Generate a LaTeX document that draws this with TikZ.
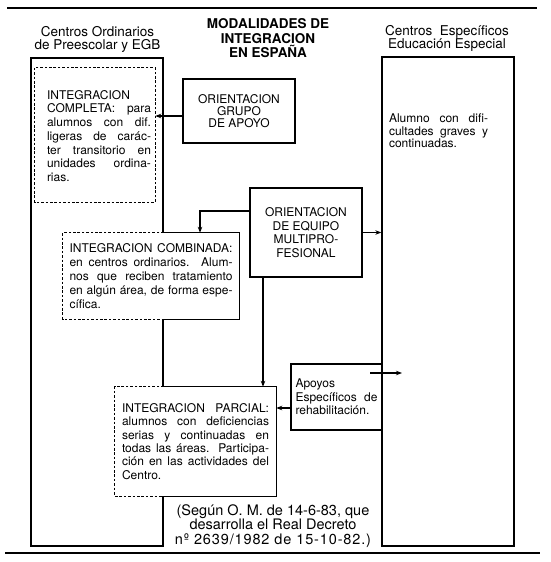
\documentclass[tikz,border=0pt]{standalone}
\usepackage{fontspec}
\setmainfont{TeX Gyre Heros}
\usetikzlibrary{arrows.meta}
\begin{document}
\begin{tikzpicture}[x=1pt,y=-1pt,
  frame/.style={draw, line width=1.3pt, inner sep=0pt},
  blank/.style={inner sep=0pt},
  whitebox/.style={fill=white, inner sep=0pt},
  dashline/.style={line width=1.1pt, dash pattern=on 2.6pt off 1.8pt},
  solidline/.style={line width=1.3pt},
  arr/.style={line width=1.1pt, -{Stealth[length=6pt,width=4.5pt]}},
  bodytxt/.style={inner sep=0pt, align=justify,
    execute at begin node={\tolerance=10000\hyphenpenalty=10000\exhyphenpenalty=10000}},
  ctrtxt/.style={inner sep=0pt, align=center},
  rulestyle/.style={line width=1.6pt}
]
\useasboundingbox (0,0) rectangle (550,562);

% rules
\coordinate (tl) at (7,8);
\coordinate (tr) at (537,8);
\coordinate (bl) at (5,553);
\coordinate (br) at (540,553);
\draw[rulestyle] (tl) -- (tr);
\draw[line width=2.2pt] (bl) -- (br);

% titles
\node[ctrtxt, font=\fontsize{13.5}{13.5}\selectfont] (ltitle) at (97.5,39.5) {Centros Ordinarios\\de Preescolar y EGB};
\node[ctrtxt, font=\fontsize{13.5}{14.5}\selectfont\bfseries] (mtitle) at (268,38.5) {MODALIDADES DE\\INTEGRACION\\EN ESPAÑA};
\node[ctrtxt, font=\fontsize{13.5}{13.5}\selectfont] (rtitle) at (447,38.5) {Centros~ Específicos\\Educación Especial};

% big boxes
\node[frame, minimum width=132, minimum height=488] (leftbox) at (97,302) {};
\node[frame, minimum width=132, minimum height=489] (rightbox) at (448,301.5) {};

% completa
\node[blank, minimum width=120, minimum height=134] (completa) at (95,135) {};
\draw[dashline] (completa.north west) rectangle (completa.south east);
\node[bodytxt, text width=104, font=\fontsize{12}{13.7}\selectfont] (completatxt) at (99,136)
  {INTEGRACION\\COMPLETA: para\linebreak alumnos con dif.\linebreak ligeras de carác-\linebreak ter transitorio en\linebreak unidades ordina-\linebreak rias.};

% grupo
\node[frame, minimum width=112, minimum height=64, ctrtxt, font=\fontsize{12}{11.8}\selectfont] (grupo) at (239,111)
  {ORIENTACION\\GRUPO\\DE APOYO};

% multi
\node[frame, minimum width=112, minimum height=89, ctrtxt, font=\fontsize{12}{13.7}\selectfont] (multi) at (306,232.5)
  {ORIENTACION\\DE EQUIPO\\MULTIPRO-\\FESIONAL};

% combinada
\node[whitebox, minimum width=176, minimum height=86, bodytxt, text width=163, font=\fontsize{12}{14}\selectfont] (combinada) at (151,276)
  {INTEGRACION COMBINADA:\linebreak en centros ordinarios. Alum-\linebreak nos que reciben tratamiento\linebreak en algún área, de forma espe-\linebreak cífica.};
\draw[dashline] (combinada.north -| leftbox.east) -- (combinada.north west) -- (combinada.south west) -- (combinada.south -| leftbox.east);
\draw[solidline] (combinada.north -| leftbox.east) -- (combinada.north east) -- (combinada.south east) -- (combinada.south -| leftbox.east);

% parcial
\node[whitebox, minimum width=161, minimum height=109, bodytxt, text width=147, font=\fontsize{12}{13.4}\selectfont] (parcial) at (195.5,441.5)
  {INTEGRACION PARCIAL:\linebreak alumnos con deficiencias\linebreak serias y continuadas en\linebreak todas las áreas. Participa-\linebreak ción en las actividades del\linebreak Centro.};
\draw[dashline] (parcial.north -| leftbox.east) -- (parcial.north west) -- (parcial.south west) -- (parcial.south -| leftbox.east);
\draw[solidline] (parcial.north -| leftbox.east) -- (parcial.north east) -- (parcial.south east) -- (parcial.south -| leftbox.east);

% apoyos
\node[frame, minimum width=91, minimum height=66, bodytxt, text width=82, font=\fontsize{12}{13.5}\selectfont] (apoyos) at (336.5,397)
  {Apoyos\\Específicos de\linebreak rehabilitación.};

% right box text
\node[bodytxt, text width=99, font=\fontsize{12}{12.6}\selectfont] (rtxt) at (438.5,131)
  {Alumno con difi-\linebreak cultades graves y\linebreak continuadas.};

% footnote
\node[ctrtxt, font=\fontsize{14.5}{14.5}\selectfont] (foot) at (273,526)
  {(Según O. M. de 14-6-83, que\\desarrolla el Real Decreto\\{\addfontfeature{LetterSpace=6}nº 2639/1982 de 15-10-82.)}};

% connectors
\draw[arr] ([yshift=-5pt]grupo.west) -- ([yshift=-5pt]grupo.west -| completa.east);
\draw[arr] ([yshift=21.5pt]multi.west) -| ([xshift=49pt]combinada.north);
\draw[arr] (multi.east) -- (multi.east -| rightbox.west);
\draw[arr] ([xshift=-43pt]multi.south) -- ([xshift=-43pt]multi.south |- parcial.north);
\draw[arr] ([yshift=-11pt]apoyos.west) -- ([yshift=-11pt]apoyos.west -| parcial.east);
\coordinate (aps) at (370,373);
\coordinate (ape) at (402,373);
\draw[arr] (aps) -- (ape);
\end{tikzpicture}
\end{document}
